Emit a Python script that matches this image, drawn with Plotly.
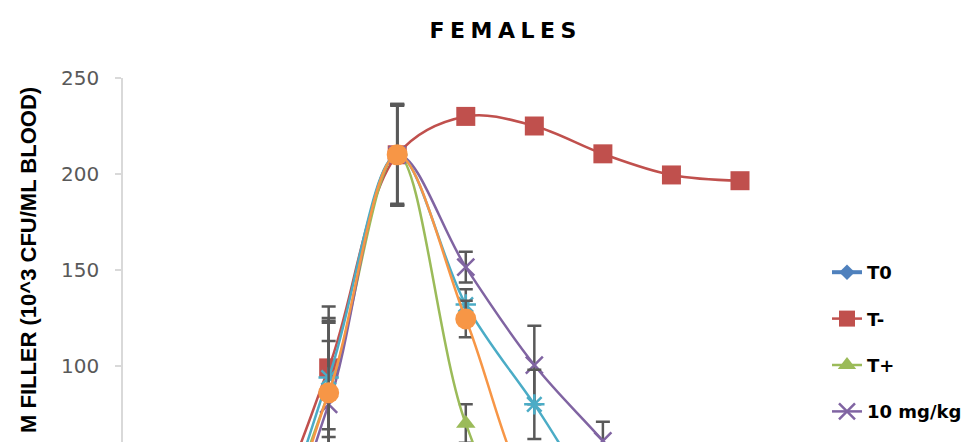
import plotly.graph_objects as go

# time points (category index along the x axis)
time_points = [0, 1, 2, 3, 4, 5, 6, 7, 8, 9]

series_names = ["T0", "T-", "T+", "10 mg/kg", "20 mg/kg", "40 mg/kg"]

t0_vals = [0, 0, 0, 0, 0, 0, 0, 0, 0, 0]
t_minus_vals = [0, 0, 20, 99, 210, 230, 225, 210.5, 199.5, 196.5]
t_plus_vals = [0, 0, 10, 86, 210, 70, 0, 0, 0, 0]
mg10_vals = [0, 0, 0, 80, 210, 151.5, 100.5, 61, 20, 0]
mg20_vals = [0, 0, 10, 94, 210, 132, 80, 28, 0, 0]
mg40_vals = [0, 0, 5, 86, 210, 124.5, 30, 0, 0, 0]

t0_err = [0, 0, 0, 0, 0, 0, 0, 0, 0, 0]
t_minus_err = [0, 0, 0, 32, 26.5, 3, 3, 3, 3, 3]
t_plus_err = [0, 0, 0, 27, 26, 10, 0, 0, 0, 0]
mg10_err = [0, 0, 0, 42.5, 25.5, 8, 20.5, 10, 5, 0]
mg20_err = [0, 0, 0, 31, 26, 8, 18, 8, 0, 0]
mg40_err = [0, 0, 0, 37.5, 26.5, 9.5, 8, 0, 0, 0]

y_tick_vals = [50, 100, 150, 200, 250]

colors = ["#4F81BD", "#C0504D", "#9BBB59", "#8064A2", "#4BACC6", "#F79646"]
symbols = ["diamond", "square", "triangle-up", "x-thin-open", "asterisk-open", "circle"]
sizes = [12, 19, 17, 17, 17, 21]
widths = [4, 2.5, 2.5, 2.5, 2.5, 2.5]

all_vals = [t0_vals, t_minus_vals, t_plus_vals, mg10_vals, mg20_vals, mg40_vals]
all_errs = [t0_err, t_minus_err, t_plus_err, mg10_err, mg20_err, mg40_err]

fig = go.Figure()
for i, name in enumerate(series_names):
    sym = symbols[i]
    marker = dict(symbol=sym, size=sizes[i], color=colors[i])
    if sym.endswith("open"):
        marker["line"] = dict(width=2.5, color=colors[i])
    else:
        marker["line"] = dict(width=0)
    fig.add_trace(go.Scatter(
        x=time_points, y=all_vals[i], name=name, mode="lines+markers",
        line=dict(color=colors[i], width=widths[i], shape="spline", smoothing=1),
        marker=marker,
        error_y=dict(type="data", array=all_errs[i], visible=True,
                     color="#595959", thickness=2.5, width=7),
        legendgroup=name, cliponaxis=False,
    ))

# page body has an 8px margin: window pixel = figure pixel + 8
OFF = 8
W0, W1 = 123, 740          # plot area, window pixels
H_TOP, H_BOT = 78, 442
fig.update_layout(
    width=972, height=442,
    margin=dict(l=W0 - OFF, r=972 - (W1 - OFF), t=H_TOP - OFF, b=442 - (H_BOT - OFF),
                autoexpand=False),
    plot_bgcolor="white", paper_bgcolor="white",
    title=dict(text="F\u2005E\u2005M\u2005A\u2005L\u2005E\u2005S", x=(503 - W0) / (W1 - W0),
               xref="paper", xanchor="center",
               y=1 - (30 - OFF) / 442, yref="container", yanchor="middle",
               font=dict(family="DejaVu Sans", size=22, color="#000000", weight="bold")),
    xaxis=dict(range=[0, 9], visible=False),
    yaxis=dict(range=[60.4, 250], tickvals=y_tick_vals, showgrid=False, zeroline=False,
               showline=True, linecolor="#D9D9D9", linewidth=1.5,
               ticks="outside", ticklen=6, tickcolor="#D9D9D9", tickwidth=1.5,
               ticklabelstandoff=12,
               tickfont=dict(family="DejaVu Sans", size=20, color="#595959")),
    legend=dict(x=(827 - W0) / (W1 - W0), xanchor="left", y=(442 - 254) / 364, yanchor="top",
                font=dict(family="DejaVu Sans", size=18, color="#000000", weight="bold"),
                tracegroupgap=20, bgcolor="rgba(0,0,0,0)"),
    showlegend=True,
)

fig.add_annotation(
    text="M FILLER (10^3 CFU/ML BLOOD)", textangle=-90,
    xref="paper", yref="paper", x=(28 - W0) / (W1 - W0), y=(442 - 85) / 364,
    xanchor="center", yanchor="top", showarrow=False,
    font=dict(family="Liberation Sans", size=22, color="#000000", weight="bold"),
)

fig.write_html("out.html")
